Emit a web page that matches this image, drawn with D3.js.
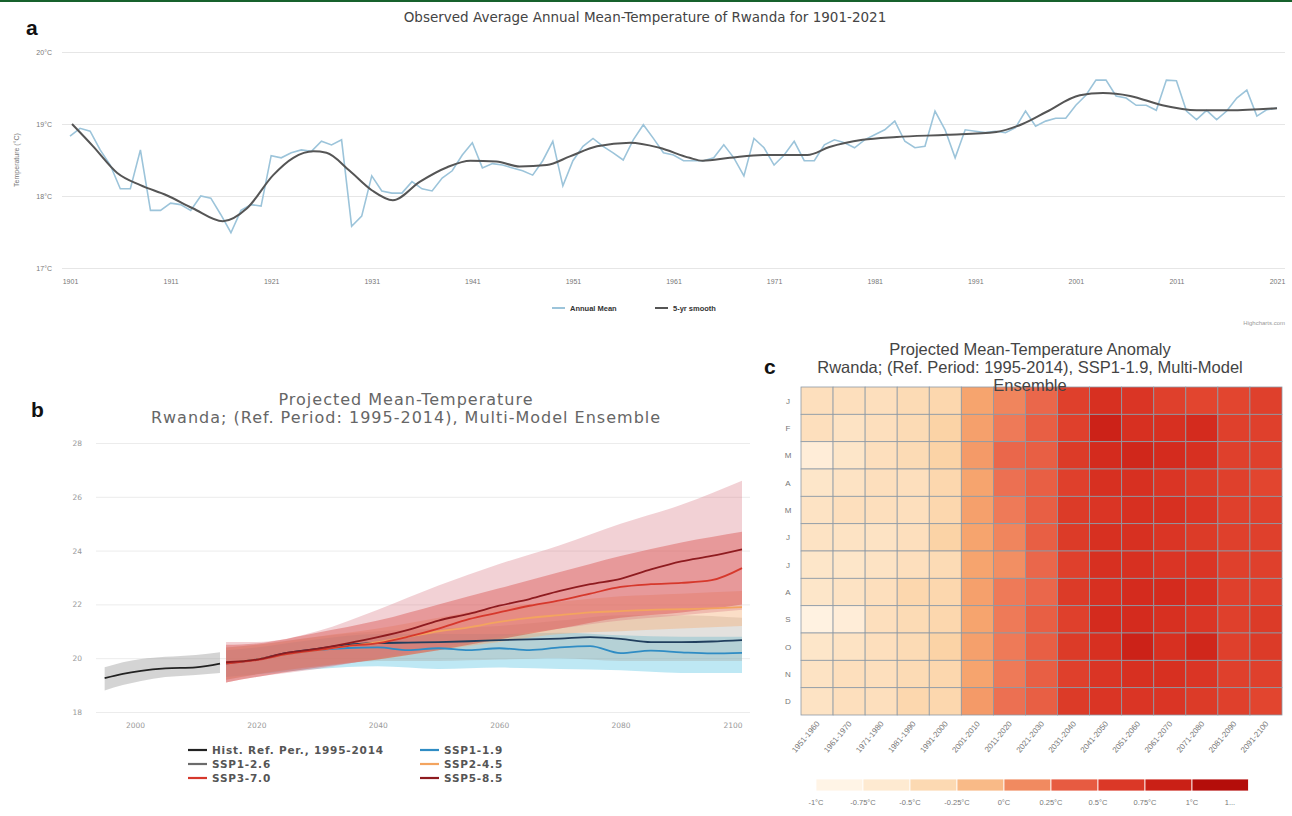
<!DOCTYPE html>
<html>
<head>
<meta charset="utf-8">
<script src="https://cdn.jsdelivr.net/npm/d3@7"></script>
<style>
  body { margin: 0; background: #fff; }
  svg { display: block; }
</style>
</head>
<body>
<svg id="fig" width="1292" height="816"></svg>
<script>
// ---------------- Panel a: observed annual mean temperature ----------------
const obsFirstYear = 1901;
const obsAnnual = [
  18.83, 18.94, 18.90, 18.64, 18.43, 18.10, 18.10, 18.64, 17.80, 17.80, // 1901-1910
  17.90, 17.88, 17.80, 18.00, 17.97, 17.74, 17.49, 17.80, 17.88, 17.86, // 1911-1920
  18.56, 18.53, 18.60, 18.64, 18.62, 18.76, 18.71, 18.78, 17.58, 17.72, // 1921-1930
  18.28, 18.07, 18.04, 18.04, 18.20, 18.10, 18.07, 18.25, 18.35, 18.57, // 1931-1940
  18.74, 18.39, 18.45, 18.43, 18.39, 18.35, 18.29, 18.49, 18.76, 18.14, // 1941-1950
  18.49, 18.69, 18.80, 18.69, 18.60, 18.50, 18.78, 18.99, 18.80, 18.60, // 1951-1960
  18.57, 18.49, 18.49, 18.49, 18.53, 18.71, 18.53, 18.28, 18.80, 18.67, // 1961-1970
  18.43, 18.57, 18.76, 18.49, 18.49, 18.71, 18.78, 18.74, 18.67, 18.78, // 1971-1980
  18.85, 18.92, 19.04, 18.76, 18.67, 18.69, 19.18, 18.92, 18.53, 18.92, // 1981-1990
  18.90, 18.88, 18.90, 18.88, 18.95, 19.18, 18.97, 19.04, 19.08, 19.08, // 1991-2000
  19.26, 19.40, 19.61, 19.61, 19.39, 19.36, 19.26, 19.26, 19.19, 19.61, // 2001-2010
  19.60, 19.18, 19.06, 19.19, 19.06, 19.18, 19.36, 19.47, 19.11, 19.20, // 2011-2020
  19.22                                                                 // 2021
];
const smoothYears = [1901.2, 1903.3, 1905.7, 1908, 1910.6, 1913.2, 1916.2, 1918.6, 1921.2, 1923.2,
  1925.2, 1926.5, 1928.8, 1931, 1933.1, 1935.8, 1938.5, 1940.8, 1943.4, 1945.7, 1948.4, 1950.7,
  1953.4, 1956.7, 1959.6, 1962.6, 1963.9, 1966.6, 1969.9, 1974.3, 1976.5, 1979.8, 1983.2, 1988.2,
  1993.1, 1995.7, 1998.1, 2001.4, 2003.7, 2006.4, 2009.6, 2013, 2016.3, 2021];
const smoothValues = [19.0, 18.69, 18.32, 18.15, 18.01, 17.83, 17.65, 17.83, 18.29, 18.53,
  18.62, 18.6, 18.35, 18.08, 17.94, 18.2, 18.4, 18.49, 18.48, 18.41, 18.43, 18.55,
  18.69, 18.74, 18.67, 18.53, 18.49, 18.53, 18.57, 18.57, 18.68, 18.78, 18.82, 18.85,
  18.89, 19.0, 19.17, 19.4, 19.43, 19.39, 19.26, 19.19, 19.19, 19.22];
const obsYearTicks = [1901, 1911, 1921, 1931, 1941, 1951, 1961, 1971, 1981, 1991, 2001, 2011, 2021];
const obsTempTicks = [17, 18, 19, 20];

// ---------------- Panel b: projected mean temperature ----------------
const histYears = [1995, 1998, 2001, 2005, 2010, 2014];
const histMean  = [19.26, 19.42, 19.53, 19.62, 19.66, 19.80];
const histLow   = [18.80, 19.00, 19.15, 19.30, 19.38, 19.45];
const histHigh  = [19.66, 19.85, 19.97, 20.05, 20.12, 20.22];

const projYears = [2015, 2020, 2025, 2030, 2035, 2040, 2045, 2050, 2055, 2060, 2065, 2070, 2075, 2080, 2085, 2090, 2095, 2100];
const ssp119 = [19.80, 19.95, 20.15, 20.30, 20.38, 20.40, 20.30, 20.37, 20.30, 20.37, 20.30, 20.40, 20.45, 20.19, 20.28, 20.22, 20.18, 20.20];
const ssp126 = [19.82, 19.95, 20.20, 20.35, 20.50, 20.56, 20.58, 20.60, 20.63, 20.67, 20.70, 20.73, 20.78, 20.72, 20.60, 20.60, 20.62, 20.67];
const ssp245 = [19.82, 19.95, 20.15, 20.30, 20.45, 20.60, 20.80, 21.00, 21.15, 21.35, 21.50, 21.60, 21.70, 21.75, 21.80, 21.82, 21.85, 21.90];
const ssp370 = [19.80, 19.93, 20.15, 20.30, 20.45, 20.56, 20.80, 21.10, 21.45, 21.70, 21.95, 22.15, 22.40, 22.65, 22.75, 22.80, 22.90, 23.35];
const ssp585 = [19.85, 19.95, 20.20, 20.35, 20.55, 20.78, 21.05, 21.40, 21.65, 21.95, 22.20, 22.50, 22.75, 22.95, 23.30, 23.60, 23.80, 24.05];

const bandYears = [2015, 2020, 2030, 2040, 2050, 2060, 2070, 2080, 2090, 2100];
const ssp119Low  = [19.30, 19.40, 19.60, 19.70, 19.60, 19.65, 19.60, 19.55, 19.45, 19.45];
const ssp119High = [20.30, 20.40, 20.70, 20.90, 20.90, 20.90, 20.95, 20.85, 20.80, 20.80];
const ssp126Low  = [19.20, 19.40, 19.70, 19.90, 19.90, 19.95, 20.00, 19.90, 19.90, 19.90];
const ssp126High = [20.40, 20.50, 20.80, 21.00, 21.10, 21.20, 21.40, 21.60, 21.60, 21.50];
const ssp245Low  = [19.20, 19.40, 19.70, 19.95, 20.30, 20.60, 20.90, 21.00, 21.10, 21.20];
const ssp245High = [20.40, 20.50, 20.80, 21.10, 21.50, 21.90, 22.10, 22.30, 22.40, 22.50];
const ssp370Low  = [19.10, 19.30, 19.65, 19.95, 20.30, 20.70, 21.10, 21.50, 21.70, 22.00];
const ssp370High = [20.50, 20.55, 20.95, 21.40, 22.00, 22.60, 23.20, 23.80, 24.30, 24.70];
const ssp585Low  = [19.10, 19.30, 19.60, 20.00, 20.40, 20.80, 21.10, 21.40, 21.60, 21.80];
const ssp585High = [20.60, 20.60, 21.00, 21.80, 22.70, 23.50, 24.20, 25.00, 25.70, 26.60];

const projYearTicks = [2000, 2020, 2040, 2060, 2080, 2100];
const projTempTicks = [18, 20, 22, 24, 26, 28];

// ---------------- Panel c: monthly anomaly by decade (SSP1-1.9) ----------------
const months = ["J", "F", "M", "A", "M", "J", "J", "A", "S", "O", "N", "D"];
const decades = ["1951-1960", "1961-1970", "1971-1980", "1981-1990", "1991-2000", "2001-2010", "2011-2020",
  "2021-2030", "2031-2040", "2041-2050", "2051-2060", "2061-2070", "2071-2080", "2081-2090", "2091-2100"];
const anomalies = [
  [-0.45, -0.45, -0.45, -0.40, -0.35, 0.00, 0.15, 0.30, 0.55, 0.70, 0.65, 0.55, 0.50, 0.50, 0.55],
  [-0.45, -0.50, -0.45, -0.40, -0.30, 0.02, 0.20, 0.35, 0.55, 0.85, 0.70, 0.70, 0.75, 0.55, 0.55],
  [-0.70, -0.55, -0.45, -0.40, -0.30, 0.05, 0.30, 0.35, 0.60, 0.75, 0.80, 0.75, 0.70, 0.55, 0.55],
  [-0.55, -0.50, -0.45, -0.45, -0.35, 0.00, 0.25, 0.35, 0.55, 0.70, 0.70, 0.65, 0.60, 0.55, 0.50],
  [-0.50, -0.45, -0.45, -0.45, -0.35, 0.02, 0.20, 0.35, 0.60, 0.65, 0.70, 0.70, 0.65, 0.55, 0.55],
  [-0.50, -0.50, -0.50, -0.45, -0.30, 0.00, 0.15, 0.35, 0.60, 0.70, 0.70, 0.65, 0.60, 0.55, 0.55],
  [-0.55, -0.55, -0.50, -0.45, -0.40, 0.00, 0.10, 0.30, 0.55, 0.70, 0.70, 0.65, 0.65, 0.55, 0.55],
  [-0.55, -0.50, -0.45, -0.35, -0.35, 0.02, 0.20, 0.30, 0.60, 0.70, 0.75, 0.75, 0.70, 0.55, 0.55],
  [-0.80, -0.70, -0.45, -0.40, -0.35, 0.00, 0.20, 0.35, 0.55, 0.75, 0.75, 0.70, 0.65, 0.55, 0.60],
  [-0.55, -0.50, -0.45, -0.40, -0.30, 0.02, 0.20, 0.35, 0.60, 0.70, 0.85, 0.70, 0.80, 0.55, 0.60],
  [-0.50, -0.45, -0.45, -0.40, -0.35, 0.00, 0.20, 0.35, 0.55, 0.65, 0.70, 0.70, 0.65, 0.55, 0.55],
  [-0.50, -0.45, -0.45, -0.35, -0.35, 0.05, 0.25, 0.35, 0.60, 0.65, 0.65, 0.65, 0.60, 0.55, 0.50]
];
const legendTicks = [-1, -0.75, -0.5, -0.25, 0, 0.25, 0.5, 0.75, 1];
const legendTickLabels = ["-1°C", "-0.75°C", "-0.5°C", "-0.25°C", "0°C", "0.25°C", "0.5°C", "0.75°C", "1°C"];
const legendSteps = [-1, -0.75, -0.5, -0.25, 0, 0.25, 0.5, 0.75, 1, 1.3];

// ================= drawing =================
const svg = d3.select("#fig");
svg.append("rect").attr("width", 1292).attr("height", 816).attr("fill", "#fff");
svg.append("rect").attr("x", 0).attr("y", 0).attr("width", 1292).attr("height", 2).attr("fill", "#17612c");

const sans = "'DejaVu Sans', Verdana, sans-serif";
const lib = "'Liberation Sans', Arial, sans-serif";

// ---------- panel a ----------
{
  const g = svg.append("g");
  const x = d3.scaleLinear().domain([1901, 2021]).range([70, 1277]);
  const y = d3.scaleLinear().domain([17, 20]).range([268, 52]);

  g.append("text").attr("x", 26).attr("y", 35).text("a")
    .attr("font-family", lib).attr("font-weight", "bold").attr("font-size", 21).attr("fill", "#111");
  g.append("text").attr("x", 645).attr("y", 22).attr("text-anchor", "middle")
    .attr("font-family", sans).attr("font-size", 13.5).attr("fill", "#444")
    .text("Observed Average Annual Mean-Temperature of Rwanda for 1901-2021");

  const yAxis = d3.axisLeft(y).tickValues(obsTempTicks).tickSize(-(1285 - 62)).tickFormat(d => d + "°C");
  const ya = g.append("g").attr("transform", "translate(62,0)").call(yAxis);
  ya.select(".domain").remove();
  ya.selectAll("line").attr("stroke", "#e6e6e6");
  ya.selectAll("text").attr("x", -10).attr("font-family", lib).attr("font-size", 7).attr("fill", "#777");

  const xAxis = d3.axisBottom(x).tickValues(obsYearTicks).tickSize(0).tickFormat(d3.format("d"));
  const xa = g.append("g").attr("transform", "translate(0,276)").call(xAxis);
  xa.select(".domain").remove();
  xa.selectAll("text").attr("font-family", lib).attr("font-size", 7).attr("fill", "#777");

  g.append("text").attr("transform", "translate(19,160) rotate(-90)").attr("text-anchor", "middle")
    .attr("font-family", lib).attr("font-size", 7).attr("fill", "#777").text("Temperature (°C)");

  const annual = obsAnnual.map((v, i) => [obsFirstYear + i, v]);
  g.append("path").datum(annual)
    .attr("d", d3.line().x(d => x(d[0])).y(d => y(d[1])))
    .attr("fill", "none").attr("stroke", "#9cc4da").attr("stroke-width", 1.6);

  const smooth = smoothYears.map((yr, i) => [yr, smoothValues[i]]);
  g.append("path").datum(smooth)
    .attr("d", d3.line().curve(d3.curveMonotoneX).x(d => x(d[0])).y(d => y(d[1])))
    .attr("fill", "none").attr("stroke", "#555").attr("stroke-width", 2);

  const leg = [{ label: "Annual Mean", color: "#9cc4da", x: 552 }, { label: "5-yr smooth", color: "#555", x: 655 }];
  leg.forEach(l => {
    g.append("line").attr("x1", l.x).attr("x2", l.x + 13).attr("y1", 308).attr("y2", 308)
      .attr("stroke", l.color).attr("stroke-width", 2);
    g.append("text").attr("x", l.x + 18).attr("y", 310.5).text(l.label)
      .attr("font-family", lib).attr("font-weight", "bold").attr("font-size", 7.5).attr("fill", "#333");
  });
  g.append("text").attr("x", 1285).attr("y", 325).attr("text-anchor", "end").text("Highcharts.com")
    .attr("font-family", lib).attr("font-size", 6).attr("fill", "#999");
}

// ---------- panel b ----------
{
  const g = svg.append("g");
  const x = d3.scaleLinear().domain([2000, 2100]).range([135, 742]);
  const y = d3.scaleLinear().domain([18, 28]).range([712, 443]);

  g.append("text").attr("x", 31).attr("y", 417).text("b")
    .attr("font-family", lib).attr("font-weight", "bold").attr("font-size", 21).attr("fill", "#111");
  g.append("text").attr("x", 406).attr("y", 405).attr("text-anchor", "middle")
    .attr("font-family", sans).attr("font-size", 16).attr("letter-spacing", 1).attr("fill", "#666")
    .text("Projected Mean-Temperature");
  g.append("text").attr("x", 406).attr("y", 423).attr("text-anchor", "middle")
    .attr("font-family", sans).attr("font-size", 16).attr("letter-spacing", 1).attr("fill", "#666")
    .text("Rwanda; (Ref. Period: 1995-2014), Multi-Model Ensemble");

  const yAxis = d3.axisLeft(y).tickValues(projTempTicks).tickSize(-(750 - 96)).tickFormat(d3.format("d"));
  const ya = g.append("g").attr("transform", "translate(96,0)").call(yAxis);
  ya.select(".domain").remove();
  ya.selectAll("line").attr("stroke", "#ececec");
  ya.selectAll("text").attr("x", -14).attr("font-family", sans).attr("font-size", 7.5).attr("fill", "#999");

  const xAxis = d3.axisBottom(x).tickValues(projYearTicks).tickSize(0).tickFormat(d3.format("d"));
  const xa = g.append("g").attr("transform", "translate(0,720)").call(xAxis);
  xa.select(".domain").remove();
  xa.selectAll("text").attr("font-family", sans).attr("font-size", 7.5).attr("fill", "#999")
    .attr("text-anchor", d => d === 2100 ? "end" : "middle");

  const area = d3.area().curve(d3.curveMonotoneX).x(d => x(d[0])).y0(d => y(d[1])).y1(d => y(d[2]));
  const line = d3.line().curve(d3.curveMonotoneX).x(d => x(d[0])).y(d => y(d[1]));
  const band = (lo, hi) => bandYears.map((yr, i) => [yr, lo[i], hi[i]]);
  const ser = vals => projYears.map((yr, i) => [yr, vals[i]]);

  // low-emission envelopes first, high-emission ones painted over them
  const bands = [
    { d: band(ssp119Low, ssp119High), fill: "#5cc6e4", op: 0.4 },
    { d: band(ssp126Low, ssp126High), fill: "#a39c92", op: 0.3 },
    { d: band(ssp245Low, ssp245High), fill: "#f6ad72", op: 0.4 },
    { d: band(ssp370Low, ssp370High), fill: "#d9392e", op: 0.42 },
    { d: band(ssp585Low, ssp585High), fill: "#d87480", op: 0.33 }
  ];
  g.append("path").datum(histYears.map((yr, i) => [yr, histLow[i], histHigh[i]]))
    .attr("d", area).attr("fill", "#a0a0a0").attr("fill-opacity", 0.45);
  bands.forEach(b => g.append("path").datum(b.d).attr("d", area).attr("fill", b.fill).attr("fill-opacity", b.op));

  const lines = [
    { d: ser(ssp119), c: "#2f8cc4" },
    { d: ser(ssp126), c: "#213f5e" },
    { d: ser(ssp245), c: "#f3a45f" },
    { d: ser(ssp370), c: "#d6382c" },
    { d: ser(ssp585), c: "#8e1b1f" }
  ];
  g.append("path").datum(histYears.map((yr, i) => [yr, histMean[i]])).attr("d", line)
    .attr("fill", "none").attr("stroke", "#222").attr("stroke-width", 1.8);
  lines.forEach(l => g.append("path").datum(l.d).attr("d", line)
    .attr("fill", "none").attr("stroke", l.c).attr("stroke-width", 1.8));

  const legendItems = [
    { label: "Hist. Ref. Per., 1995-2014", c: "#222", x: 188, y: 750 },
    { label: "SSP1-2.6", c: "#6b6b6b", x: 188, y: 764 },
    { label: "SSP3-7.0", c: "#d6382c", x: 188, y: 778 },
    { label: "SSP1-1.9", c: "#2f8cc4", x: 420, y: 750 },
    { label: "SSP2-4.5", c: "#f3a45f", x: 420, y: 764 },
    { label: "SSP5-8.5", c: "#8e1b1f", x: 420, y: 778 }
  ];
  legendItems.forEach(l => {
    g.append("line").attr("x1", l.x).attr("x2", l.x + 19).attr("y1", l.y).attr("y2", l.y)
      .attr("stroke", l.c).attr("stroke-width", 2.2);
    g.append("text").attr("x", l.x + 24).attr("y", l.y + 4).text(l.label)
      .attr("font-family", sans).attr("font-weight", "bold").attr("font-size", 10.5)
      .attr("letter-spacing", 0.8).attr("fill", "#555");
  });
}

// ---------- panel c ----------
{
  const g = svg.append("g");
  const x = d3.scaleBand().domain(decades).range([801, 1282]);
  const y = d3.scaleBand().domain(d3.range(months.length)).range([387, 715]);
  const color = d3.scaleLinear()
    .domain([-1, -0.75, -0.5, -0.25, 0, 0.25, 0.5, 0.75, 1, 1.3])
    .range(["#fff8ef", "#fff0dd", "#fde3c4", "#fbcf9f", "#f6a46e", "#ec7052", "#e2452f", "#d42b1e", "#c0150e", "#a80505"])
    .clamp(true);

  g.append("text").attr("x", 764).attr("y", 374).text("c")
    .attr("font-family", lib).attr("font-weight", "bold").attr("font-size", 21).attr("fill", "#111");
  const titleLines = ["Projected Mean-Temperature Anomaly", "Rwanda; (Ref. Period: 1995-2014), SSP1-1.9, Multi-Model", "Ensemble"];

  const cells = [];
  anomalies.forEach((row, r) => row.forEach((v, c) => cells.push({ r, c, v })));
  g.selectAll("rect.cell").data(cells).join("rect").attr("class", "cell")
    .attr("x", d => x(decades[d.c])).attr("y", d => y(d.r))
    .attr("width", x.bandwidth()).attr("height", y.bandwidth())
    .attr("fill", d => color(d.v)).attr("stroke", "#8e9aa6").attr("stroke-width", 0.8);

  titleLines.forEach((t, i) => g.append("text").attr("x", 1030).attr("y", 355 + i * 18).attr("text-anchor", "middle")
    .attr("font-family", lib).attr("font-size", 16.5).attr("fill", "#444").text(t));

  g.selectAll("text.month").data(months).join("text").attr("class", "month")
    .attr("x", 788).attr("y", (d, i) => y(i) + y.bandwidth() / 2 + 3).attr("text-anchor", "middle")
    .attr("font-family", lib).attr("font-size", 8).attr("fill", "#777").text(d => d);

  g.selectAll("text.decade").data(decades).join("text").attr("class", "decade")
    .attr("transform", d => `translate(${x(d) + x.bandwidth() / 2 + 3},${724}) rotate(-50)`)
    .attr("text-anchor", "end").attr("font-family", lib).attr("font-size", 8).attr("fill", "#777").text(d => d);

  // stepped colour bar
  const lx = d3.scaleLinear().domain([-1, 1]).range([816, 1192]);
  const steps = d3.pairs(legendSteps);
  g.selectAll("rect.step").data(steps).join("rect").attr("class", "step")
    .attr("x", d => lx(d[0])).attr("y", 779).attr("width", d => lx(d[1]) - lx(d[0])).attr("height", 12)
    .attr("fill", d => color((d[0] + d[1]) / 2)).attr("stroke", "#fff").attr("stroke-width", 0.8);
  g.selectAll("text.ltick").data(legendTicks).join("text").attr("class", "ltick")
    .attr("x", d => lx(d)).attr("y", 805).attr("text-anchor", "middle")
    .attr("font-family", lib).attr("font-size", 7.5).attr("fill", "#777")
    .text((d, i) => legendTickLabels[i]);
  g.append("text").attr("x", 1230).attr("y", 805).attr("text-anchor", "middle")
    .attr("font-family", lib).attr("font-size", 7.5).attr("fill", "#777").text("1...");
}
</script>
</body>
</html>
